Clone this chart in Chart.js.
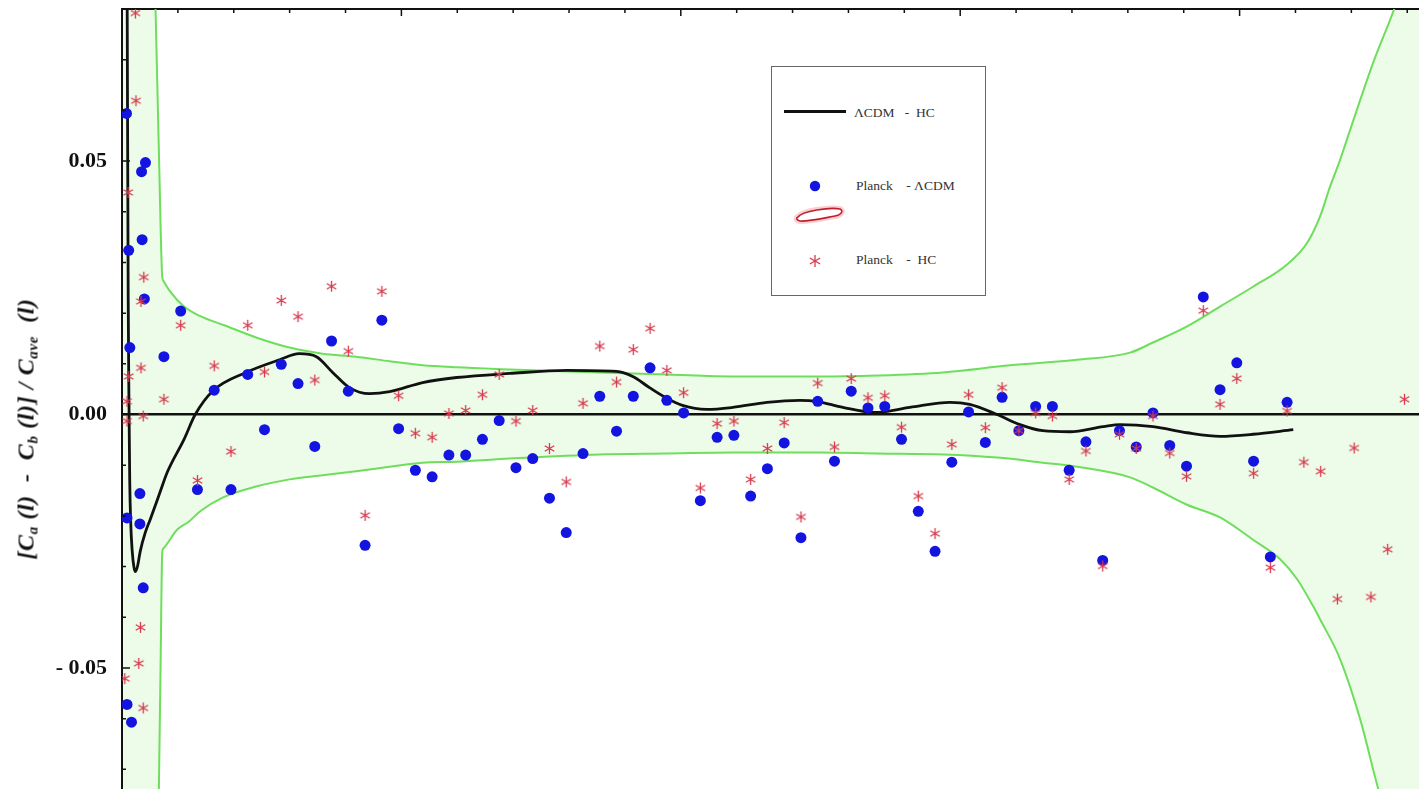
<!DOCTYPE html>
<html>
<head>
<meta charset="utf-8">
<title>Planck - ΛCDM - HC residuals</title>
<script src="https://cdn.jsdelivr.net/npm/chart.js@4.4.1/dist/chart.umd.min.js"></script>
<style>
    html, body { margin: 0; padding: 0; background: #fff; overflow: hidden; }
    #wrap { position: relative; width: 1419px; height: 789px; overflow: hidden; }
    #chart { position: absolute; left: 0; top: 0; }
    #ytitle {
        position: absolute; left: 27px; top: 429px;
        transform: translate(-50%, -50%) rotate(-90deg);
        white-space: pre; color: #111; letter-spacing: 0.6px;
        font: bold italic 24px 'Liberation Serif', 'Times New Roman', serif;
    }
    #ytitle sub { font-size: 15px; vertical-align: -4px; }
    #legend {
        position: absolute; left: 771px; top: 66px; width: 215px; height: 230px;
        box-sizing: border-box; border: 1.5px solid #666; background: #fff;
    }
    #legend svg { position: absolute; left: 0; top: 0; }
    .lg-text {
        position: absolute; white-space: pre; color: #333;
        font: 13.5px 'Liberation Serif', 'Times New Roman', serif;
        transform: translateY(-50%);
    }
</style>
</head>
<body>
<div id="wrap">
    <canvas id="chart" width="1519" height="820"></canvas>
    <div id="ytitle">[C<sub>a</sub> (l)  -  C<sub>b</sub> (l)] / C<sub>ave</sub>  (l)</div>
    <div id="legend">
        <svg width="215" height="230">
            <line x1="12" y1="44.5" x2="74" y2="44.5" stroke="#111" stroke-width="3"/>
            <circle cx="43" cy="119" r="5.2" fill="rgb(20,20,225)"/>
            <path d="M26 150 C30 144, 58 140, 68 142 C72 144, 69 148, 63 149 C52 151, 34 155, 28 154 C24 153, 24 151, 26 150 Z"
                  fill="none" stroke="rgba(240,120,130,0.35)" stroke-width="6"/>
            <path d="M26 150 C30 144, 58 140, 68 142 C72 144, 69 148, 63 149 C52 151, 34 155, 28 154 C24 153, 24 151, 26 150 Z"
                  fill="#fff" stroke="#c0202e" stroke-width="1.6"/>
            <g stroke="rgb(214,58,78)" stroke-width="1.3">
                <line x1="43" y1="188" x2="43" y2="200"/>
                <line x1="37.8" y1="191" x2="48.2" y2="197"/>
                <line x1="37.8" y1="197" x2="48.2" y2="191"/>
            </g>
        </svg>
        <span class="lg-text" style="left:82px; top:45.5px;">ΛCDM   -  HC</span>
        <span class="lg-text" style="left:84px; top:119px;">Planck    - ΛCDM</span>
        <span class="lg-text" style="left:84px; top:193px;">Planck    -  HC</span>
    </div>
</div>

<script>
// Multipole bins (centres) of the binned Planck points
const binEll = [
    75, 105, 135, 165, 195, 225, 255, 285, 315, 345,
    375, 405, 435, 465, 495, 525, 555, 585, 615, 645,
    675, 705, 735, 765, 795, 825, 855, 885, 915, 945,
    975, 1005, 1035, 1065, 1095, 1125, 1155, 1185, 1215, 1245,
    1275, 1305, 1335, 1365, 1395, 1425, 1455, 1485, 1515, 1545,
    1575, 1605, 1635, 1665, 1695, 1725, 1755, 1785, 1815, 1845,
    1875, 1905, 1935, 1965, 1995, 2025, 2055, 2085, 2115, 2145,
    2175, 2205, 2235, 2265, 2295
];

// Planck - ΛCDM (blue dots), binned
const lcdmBinned = [
    0.0114, 0.0204, -0.0148, 0.0048, -0.0148, 0.0079, -0.0030, 0.0099, 0.0061, -0.0063,
    0.0145, 0.0046, -0.0258, 0.0186, -0.0028, -0.0110, -0.0123, -0.0080, -0.0080, -0.0049,
    -0.0012, -0.0105, -0.0087, -0.0165, -0.0233, -0.0077, 0.0036, -0.0033, 0.0036, 0.0092,
    0.0028, 0.0003, -0.0170, -0.0045, -0.0041, -0.0161, -0.0107, -0.0056, -0.0243, 0.0026,
    -0.0092, 0.0046, 0.0013, 0.0016, -0.0049, -0.0191, -0.0270, -0.0094, 0.0005, -0.0055,
    0.0034, -0.0032, 0.0016, 0.0016, -0.0110, -0.0054, -0.0288, -0.0032, -0.0064, 0.0003,
    -0.0061, -0.0102, 0.0232, 0.0049, 0.0102, -0.0092, -0.0281, 0.0024, null, null,
    null, null, null, null, null
];

// Planck - HC (red asterisks), binned
const hcBinned = [
    0.0030, 0.0176, -0.0130, 0.0096, -0.0073, 0.0176, 0.0084, 0.0225, 0.0193, 0.0068,
    0.0253, 0.0125, -0.0199, 0.0243, 0.0037, -0.0037, -0.0045, 0.0002, 0.0008, 0.0039,
    0.0079, -0.0013, 0.0008, -0.0067, -0.0133, 0.0022, 0.0135, 0.0064, 0.0128, 0.0170,
    0.0087, 0.0043, -0.0145, -0.0018, -0.0013, -0.0128, -0.0067, -0.0016, -0.0202, 0.0062,
    -0.0064, 0.0071, 0.0033, 0.0037, -0.0025, -0.0161, -0.0235, -0.0059, 0.0039, -0.0026,
    0.0053, -0.0032, 0.0003, -0.0003, -0.0128, -0.0072, -0.0299, -0.0039, -0.0067, -0.0003,
    -0.0076, -0.0122, 0.0205, 0.0020, 0.0071, -0.0116, -0.0302, 0.0007, -0.0094, -0.0112,
    -0.0364, -0.0066, -0.0360, -0.0266, 0.0030
];

// Low multipoles (unbinned)
const lowEllLcdm = [8, 42, 35, 36, 12, 40, 14, 9, 32, 32, 38, 9, 17];
const lowLcdm = [0.0594, 0.0497, 0.0479, 0.0345, 0.0324, 0.0228, 0.0132, -0.0204, -0.0156, -0.0216, -0.0342, -0.0572, -0.0607];
const lowEllHc = [24, 25, 11, 39, 34, 34, 12, 9, 9, 38, 33, 30, 5, 38];
const lowHc = [0.0792, 0.0619, 0.0438, 0.0271, 0.0223, 0.0092, 0.0075, 0.0026, -0.0013, -0.0003, -0.0420, -0.0491, -0.0521, -0.0579];

// ΛCDM - HC (black curve)
const curveEll = [
    9, 9.3, 11.1, 12.4, 13.8, 15.6, 18.3, 21.5, 24.2, 28.1, 32.6, 41.6, 50.5, 66.6, 81,
    111, 131, 163, 222, 282, 317, 348, 377, 407, 443, 479, 538, 599, 694, 796,
    885, 914, 944, 975, 1003, 1046, 1093, 1154, 1213, 1243, 1290, 1347, 1410, 1482, 1517,
    1566, 1607, 1648, 1696, 1756, 1786, 1845, 1906, 1965, 2024, 2096
];
const curveVal = [
    0.0900, 0.0801, 0.0227, 0.0030, -0.0128, -0.0213, -0.0270, -0.0302, -0.0310, -0.0298, -0.0270, -0.0233, -0.0207, -0.0158, -0.0114,
    -0.0049, 0.0000, 0.0047, 0.0083, 0.0108, 0.0120, 0.0114, 0.0083, 0.0053, 0.0041, 0.0045, 0.0063, 0.0073, 0.0081, 0.0087,
    0.0085, 0.0075, 0.0053, 0.0032, 0.0018, 0.0010, 0.0014, 0.0024, 0.0028, 0.0026, 0.0014, 0.0004, 0.0014, 0.0024, 0.0020,
    0.0000, -0.0020, -0.0032, -0.0034, -0.0024, -0.0020, -0.0024, -0.0036, -0.0043, -0.0039, -0.0030
];

// Green band (upper / lower limits)
const bandUpperEll = [
    0, 55, 60, 66, 72, 73.5, 86, 111, 140, 183, 240, 300, 359, 419, 479, 538, 599, 694, 855, 975,
    1093, 1249, 1351, 1469, 1589, 1709, 1804, 1845, 1906, 1965, 2024, 2085, 2121, 2144,
    2162, 2180, 2201, 2241, 2277, 2290, 2500
];
const bandUpperVal = [
    0.1, 0.1, 0.0801, 0.0520, 0.0272, 0.0265, 0.0243, 0.0213, 0.0194, 0.0176, 0.0152, 0.0132, 0.0120, 0.0114, 0.0105, 0.0097, 0.0093, 0.0089, 0.0083, 0.0079,
    0.0075, 0.0075, 0.0077, 0.0083, 0.0097, 0.0108, 0.0122, 0.0142, 0.0174, 0.0213, 0.0252, 0.0296, 0.0339, 0.0391,
    0.0450, 0.0503, 0.0572, 0.0700, 0.0801, 0.0845, 0.1
];
const bandLowerEll = [
    0, 63, 66, 69, 72, 73.5, 99, 120, 140, 180, 240, 300, 359, 419, 479, 538, 599, 694, 855, 975,
    1093, 1249, 1351, 1469, 1566, 1648, 1709, 1804, 1845, 1906, 1965, 2024, 2073, 2103, 2132,
    2144, 2180, 2216, 2248, 2266, 2290, 2500
];
const bandLowerVal = [
    -0.1, -0.1, -0.0738, -0.0500, -0.0272, -0.0265, -0.0227, -0.0211, -0.0191, -0.0164, -0.0142, -0.0128, -0.0120, -0.0112, -0.0103, -0.0095, -0.0093, -0.0087, -0.0079, -0.0077,
    -0.0075, -0.0075, -0.0077, -0.0079, -0.0085, -0.0095, -0.0103, -0.0124, -0.0144, -0.0178, -0.0203, -0.0247, -0.0286, -0.0325, -0.0379,
    -0.0404, -0.0483, -0.0602, -0.0738, -0.0799, -0.0870, -0.1
];

const yTickValues = [-0.05, 0, 0.05];

const BLUE = 'rgb(20,20,225)';
const RED = 'rgb(214,58,78)';
const GREEN = 'rgb(110,222,92)';

// Small helper: zip two arrays into {x, y} points
function toPoints(xs, ys) {
    return xs.map((x, i) => ({ x: x, y: ys[i] }));
}

// Asterisk marker (6 arms) drawn on a small canvas
function makeAsterisk(size, color) {
    const c = document.createElement('canvas');
    c.width = size;
    c.height = size;
    const g = c.getContext('2d');
    g.strokeStyle = color;
    g.lineWidth = 1.3;
    const r = size / 2 - 1;
    const m = size / 2;
    g.beginPath();
    for (let i = 0; i < 3; i++) {
        const a = Math.PI / 2 + i * Math.PI / 3;
        g.moveTo(m + r * Math.cos(a), m + r * Math.sin(a));
        g.lineTo(m - r * Math.cos(a), m - r * Math.sin(a));
    }
    g.stroke();
    return c;
}

// Tick marks pointing into the plot (top and left axes)
const insideTicks = {
    id: 'insideTicks',
    afterDatasetsDraw(chart) {
        const { ctx, chartArea, scales } = chart;
        const x = scales.x, y = scales.y;
        ctx.save();
        ctx.strokeStyle = '#111';
        ctx.lineWidth = 1.5;
        ctx.beginPath();
        for (let l = x.min; l <= x.max; l += 100) {
            const px = x.getPixelForValue(l);
            const len = l % 500 === 0 ? 7 : 4;
            ctx.moveTo(px, chartArea.top);
            ctx.lineTo(px, chartArea.top + len);
        }
        for (let k = -8; k <= 8; k++) {
            const py = y.getPixelForValue(k / 100);
            const len = k % 5 === 0 ? 8 : 4;
            ctx.moveTo(chartArea.left, py);
            ctx.lineTo(chartArea.left + len, py);
        }
        ctx.stroke();
        ctx.restore();
    }
};

const lcdmPoints = toPoints(lowEllLcdm, lowLcdm).concat(toPoints(binEll, lcdmBinned));
const hcPoints = toPoints(lowEllHc, lowHc).concat(toPoints(binEll, hcBinned));

const ctx = document.getElementById('chart').getContext('2d');
const residualChart = new Chart(ctx, {
    type: 'line',
    data: {
        datasets: [
            {
                label: 'band upper',
                data: toPoints(bandUpperEll, bandUpperVal),
                borderColor: GREEN,
                borderWidth: 2,
                backgroundColor: 'rgb(236,252,233)',
                fill: '+1',
                pointRadius: 0,
                cubicInterpolationMode: 'monotone',
                order: 5
            },
            {
                label: 'band lower',
                data: toPoints(bandLowerEll, bandLowerVal),
                borderColor: GREEN,
                borderWidth: 2,
                fill: false,
                pointRadius: 0,
                cubicInterpolationMode: 'monotone',
                order: 5
            },
            {
                label: 'ΛCDM - HC',
                data: toPoints(curveEll, curveVal),
                borderColor: '#111',
                borderWidth: 2.8,
                fill: false,
                pointRadius: 0,
                cubicInterpolationMode: 'monotone',
                order: 3
            },
            {
                label: 'Planck - ΛCDM',
                data: lcdmPoints,
                showLine: false,
                pointStyle: 'circle',
                pointRadius: 5.5,
                pointBackgroundColor: BLUE,
                pointBorderColor: BLUE,
                pointBorderWidth: 0,
                order: 2
            },
            {
                label: 'Planck - HC',
                data: hcPoints,
                showLine: false,
                pointStyle: makeAsterisk(13, RED),
                pointRadius: 6,
                order: 1
            }
        ]
    },
    options: {
        responsive: false,
        animation: false,
        events: [],
        layout: { padding: { top: 9, left: 0, right: 0, bottom: 0 }, autoPadding: false },
        plugins: {
            legend: { display: false },
            tooltip: { enabled: false },
            filler: { drawTime: 'beforeDraw' }
        },
        scales: {
            x: {
                type: 'linear',
                position: 'top',
                min: 0,
                max: 2500,
                ticks: { display: false },
                grid: { display: false, drawTicks: false },
                border: { display: true, color: '#111', width: 2 },
                afterFit: (scale) => {
                    scale.height = 0;
                    scale.paddingLeft = 0;
                    scale.paddingRight = 0;
                }
            },
            y: {
                type: 'linear',
                min: -0.08,
                max: 0.08,
                afterBuildTicks: (scale) => {
                    scale.ticks = yTickValues.map(v => ({ value: v }));
                },
                afterFit: (scale) => {
                    scale.width = 122;
                    scale.paddingTop = 0;
                    scale.paddingBottom = 0;
                },
                ticks: {
                    padding: 15,
                    color: '#111',
                    font: { family: "'Liberation Serif', 'Times New Roman', serif", size: 22, weight: 'bold' },
                    callback: (v) => v < 0 ? '- ' + Math.abs(v).toFixed(2) : v.toFixed(2)
                },
                grid: {
                    drawTicks: false,
                    lineWidth: 2.5,
                    color: (c) => (c.tick && c.tick.value === 0) ? '#111' : 'rgba(0,0,0,0)'
                },
                border: { display: true, color: '#111', width: 2 }
            }
        }
    },
    plugins: [insideTicks]
});
</script>
</body>
</html>
